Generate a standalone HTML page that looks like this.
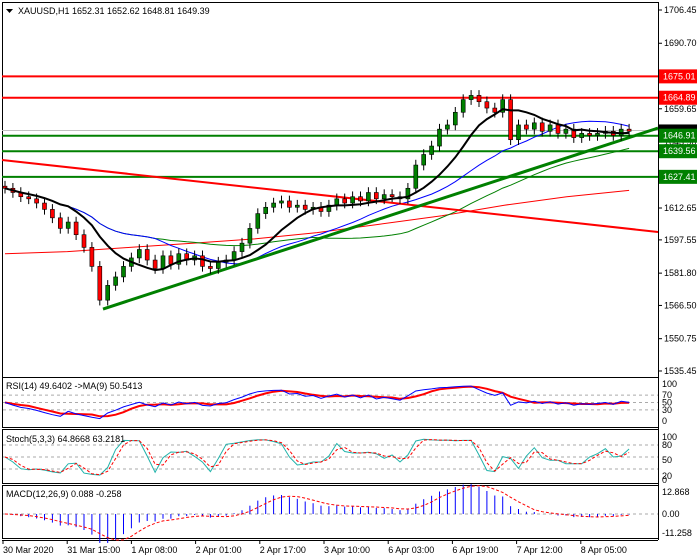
<!DOCTYPE html>
<html><head><meta charset="utf-8">
<style>
body{margin:0;background:#fff;font-family:"Liberation Sans",sans-serif;}
svg{display:block}
text{font-family:"Liberation Sans",sans-serif;font-size:9px;fill:#000}
</style></head>
<body>
<svg id="c" width="700" height="560"></svg>
<script>
const closes=[1622,1620,1618,1617,1615,1612,1608,1603,1606,1600,1594,1585,1569,1576,1580,1585,1589,1593,1588,1584,1590,1586,1591,1588,1590,1585,1584,1587,1588,1592,1596,1603,1610,1613,1615,1616,1613,1614,1612,1613,1611,1614,1617,1615,1618,1616,1620,1617,1619,1618,1617,1622,1633,1638,1642,1650,1652,1658,1664,1666,1663,1660,1658,1664,1645,1652,1650,1653,1649,1652,1648,1650,1646,1648,1647,1648,1649,1647,1650,1649];
const redMA=[1591,1592,1594,1596,1598,1601,1605,1609,1614,1618,1621];
const levelsRed=[1675.01,1664.89];
const levelsGreen=[1646.91,1639.56,1627.41];
const priceTicks=[1706.45,1690.70,1659.65,1643.90,1612.65,1597.55,1581.80,1566.50,1550.75,1535.45];
const dateLabels=["30 Mar 2020","31 Mar 15:00","1 Apr 08:00","2 Apr 01:00","2 Apr 17:00","3 Apr 10:00","6 Apr 03:00","6 Apr 19:00","7 Apr 12:00","8 Apr 05:00"];
const redTrend=[1635.4,1601.3];
const greenTrend=[1564.8,1650.5];
const lastPrice=1649.39;

const S=document.getElementById('c');const NS='http://www.w3.org/2000/svg';
function el(t,a,p){const e=document.createElementNS(NS,t);for(const k in a)e.setAttribute(k,a[k]);(p||S).appendChild(e);return e;}
const X0=5,DX=7.9,R=658;
const xi=i=>X0+i*DX;
const py=p=>10+(1706.45-p)*2.111;
[[2,2,375],[2,377,50],[2,429,54],[2,485,53]].forEach((f,k)=>{const r=el('rect',{x:f[0]+.5,y:f[1]+.5,width:R-f[0],height:f[2],fill:'none',stroke:'#000'});
});
el('line',{x1:R+.5,y1:2,x2:R+.5,y2:540,stroke:'#000'});
el('line',{x1:2,y1:540.5,x2:R,y2:540.5,stroke:'#000'});
let t=el('text',{x:18,y:14});t.textContent='XAUUSD,H1  1652.31 1652.62 1648.81 1649.39';
el('path',{d:'M6 9h7l-3.5 4z',fill:'#000'});
priceTicks.forEach(p=>{const y=py(p);el('line',{x1:R,y1:y,x2:R+4,y2:y,stroke:'#000'});const tt=el('text',{x:664,y:y+3});tt.textContent=p.toFixed(2);});
el('line',{x1:2,y1:py(lastPrice),x2:R,y2:py(lastPrice),stroke:'#c0c0c0'});
el('rect',{x:R+1,y:py(lastPrice)-6,width:38,height:12,fill:'#000'});
function level(p,c,name){const y=py(p);const l=el('line',{x1:2,y1:y,x2:R,y2:y,stroke:c,'stroke-width':2});
el('rect',{x:R+1,y:y-7,width:38,height:14,fill:c});const tx=el('text',{x:663,y:y+3,style:'fill:#fff'});tx.textContent=p.toFixed(2);}
levelsRed.forEach(p=>level(p,'#ff0000','resistance-level'));
levelsGreen.forEach(p=>level(p,'#008000','support-level'));
function sma(a,n){return a.map((v,i)=>{const s=a.slice(Math.max(0,i-n+1),i+1);return s.reduce((x,y)=>x+y,0)/s.length;});}
function poly(vals,fy,c,w,name,step){const pts=vals.map((v,i)=>(step?(X0+i*step):xi(i)).toFixed(1)+','+fy(v).toFixed(1)).join(' ');const p=el('polyline',{points:pts,fill:'none',stroke:c,'stroke-width':w});}
poly(redMA,py,'#ff0000',1,'ma-200',(xi(79)-X0)/(redMA.length-1));
poly(sma(closes,40),py,'#008000',1,'ma-100');
poly(sma(closes,20),py,'#0000ff',1,'ma-50');
let tl=el('line',{x1:2,y1:py(redTrend[0]),x2:R,y2:py(redTrend[1]),stroke:'#ff0000','stroke-width':2});
tl=el('line',{x1:103,y1:py(greenTrend[0]),x2:R,y2:py(greenTrend[1]),stroke:'#008000','stroke-width':3});
closes.forEach((c,i)=>{const o=i?closes[i-1]:c+1;const hi=Math.max(o,c)+2.5,lo=Math.min(o,c)-2.5;const x=xi(i);
const g=el('g',{});
el('line',{x1:x,y1:py(hi),x2:x,y2:py(lo),stroke:'#000'},g);
el('rect',{x:x-2,y:py(Math.max(o,c)),width:4,height:Math.max(1,Math.abs(py(o)-py(c))),fill:c>=o?'#008000':'#ff0000',stroke:'#000','stroke-width':.6},g);});
poly(sma(closes,9),py,'#000',2,'ma-20');
// RSI
function rsi(a,n){const out=[50];let ag=1,al=1;for(let i=1;i<a.length;i++){const d=a[i]-a[i-1];ag=(ag*(n-1)+Math.max(d,0))/n;al=(al*(n-1)+Math.max(-d,0))/n;out.push(100*ag/(ag+al));}return out;}
const ry=v=>421-v*0.37;
[70,50,30].forEach(v=>el('line',{x1:3,y1:ry(v),x2:R,y2:ry(v),stroke:'#aaa','stroke-dasharray':'3,3'}));
[100,70,50,30,0].forEach(v=>{const a=el('text',{x:662,y:ry(v)+3});a.textContent=v;});
const rv=rsi(closes,7);poly(sma(rv,4),ry,'#ff0000',2,'rsi-ma');poly(rv,ry,'#0000ff',1,'rsi-line');
t=el('text',{x:6,y:389});t.textContent='RSI(14) 49.6402  ->MA(9) 50.5413';
// Stoch
const sy=v=>477-v*0.4;
[80,50,20].forEach(v=>el('line',{x1:3,y1:sy(v),x2:R,y2:sy(v),stroke:'#aaa','stroke-dasharray':'3,3'}));
[[100,437],[80,445],[50,460],[20,476],[0,480]].forEach(a=>{const q=el('text',{x:662,y:a[1]+3});q.textContent=a[0];});
const K=closes.map((c,i)=>{const s=closes.slice(Math.max(0,i-2),i+1);const h=Math.max(...s)+1,l=Math.min(...s)-1;return 100*(c-l)/(h-l);});
const Ks=sma(K,2);poly(Ks,sy,'#20b2aa',1,'stoch-k');
const Ds=sma(Ks,2);const dp=el('polyline',{points:Ds.map((v,i)=>xi(i)+','+sy(v)).join(' '),fill:'none',stroke:'#ff0000','stroke-dasharray':'3,2'});
t=el('text',{x:6,y:442});t.textContent='Stoch(5,3,3) 64.8668 63.2181';
// MACD
function ema(a,n){const k=2/(n+1);let e=a[0];return a.map(v=>e=v*k+e*(1-k));}
const e1=ema(closes,5),e2=ema(closes,11);const macd=e1.map((v,i)=>v-e2[i]);const sig=sma(macd,4);
const my=v=>514-v*2.6;
el('line',{x1:3,y1:my(0),x2:R,y2:my(0),stroke:'#aaa','stroke-dasharray':'3,3'});
macd.forEach((v,i)=>{const b=el('line',{x1:xi(i),y1:my(0),x2:xi(i),y2:my(v),stroke:'#0000ff'});});
const sp=el('polyline',{points:sig.map((v,i)=>xi(i)+','+my(v)).join(' '),fill:'none',stroke:'#ff0000','stroke-dasharray':'3,2'});
[['12.868',492],['0.00',514],['-11.258',533]].forEach(a=>{const q=el('text',{x:662,y:a[1]+3});q.textContent=a[0];});
t=el('text',{x:6,y:497});t.textContent='MACD(12,26,9) 0.088 -0.258';
dateLabels.forEach((d,i)=>{const x=3+i*64.2;el('line',{x1:x,y1:540,x2:x,y2:544,stroke:'#000'});const q=el('text',{x:x,y:553});q.textContent=d;});
</script>
</body></html>
